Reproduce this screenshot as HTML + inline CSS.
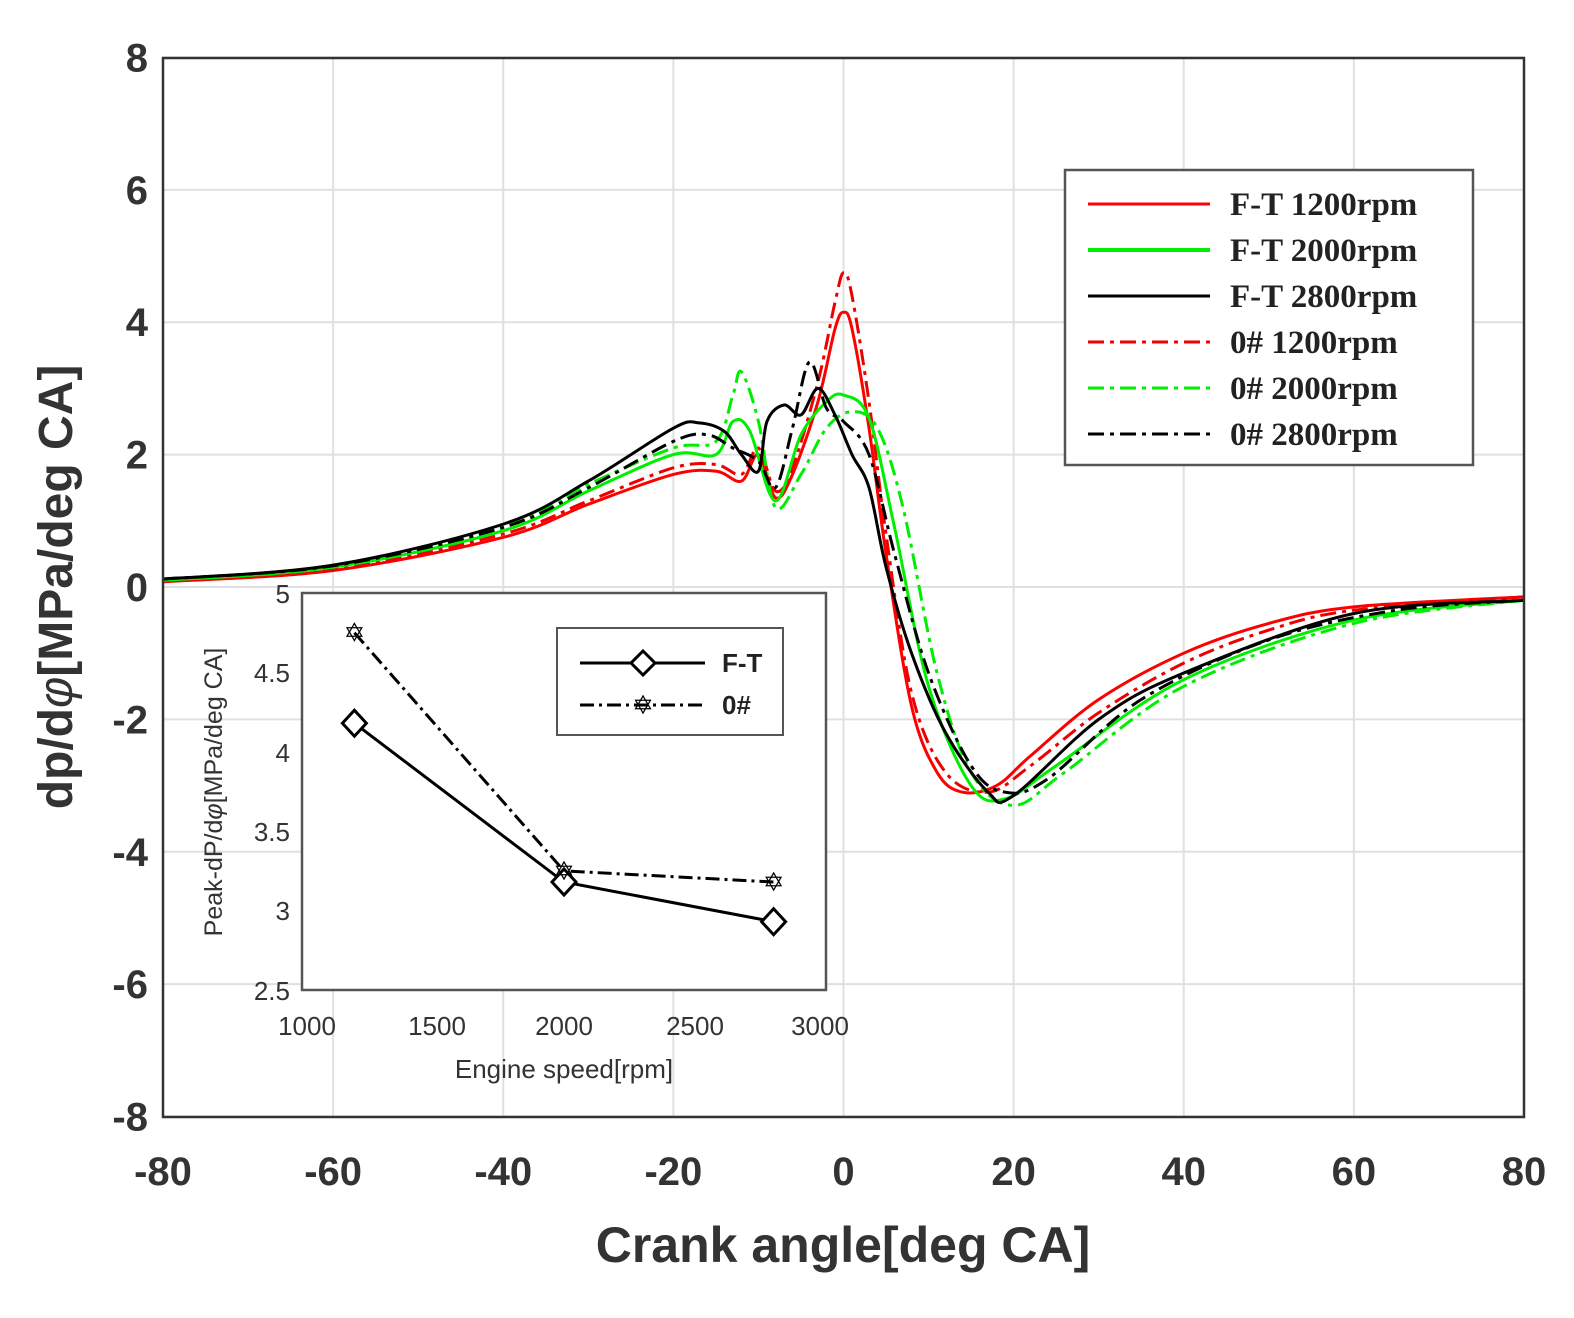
<!DOCTYPE html>
<html><head><meta charset="utf-8"><style>
body{margin:0;background:#fff;}
svg{display:block;font-family:"Liberation Sans",Arial,sans-serif;}
</style></head><body>
<svg id="s" width="1574" height="1318" viewBox="0 0 1574 1318" xmlns="http://www.w3.org/2000/svg">
<rect width="1574" height="1318" fill="#fff"/>
<g id="grid" stroke="#e0e0e0" stroke-width="2"></g>
<g id="curves" fill="none" stroke-width="3"></g>
<rect x="163" y="58" width="1361" height="1059" fill="none" stroke="#333" stroke-width="2.5"/>
<g id="ticks" font-size="40" font-weight="bold" fill="#333"></g>
<text x="843" y="1262" font-size="50" font-weight="bold" text-anchor="middle" fill="#333">Crank angle[deg CA]</text>
<text transform="translate(72,587) rotate(-90)" font-size="48" font-weight="bold" text-anchor="middle" fill="#333">dp/d<tspan font-style="italic" font-weight="normal">φ</tspan>[MPa/deg CA]</text>
<!-- legend -->
<rect x="1065" y="170" width="408" height="295" fill="#fff" stroke="#555" stroke-width="2.5"/>
<g font-family="Liberation Serif,serif" font-size="33" font-weight="bold" fill="#222">
<line x1="1088" y1="204" x2="1210" y2="204" stroke="#f00" stroke-width="3"/><text x="1230" y="215">F-T 1200rpm</text>
<line x1="1088" y1="250" x2="1210" y2="250" stroke="#0e0" stroke-width="4"/><text x="1230" y="261">F-T 2000rpm</text>
<line x1="1088" y1="296" x2="1210" y2="296" stroke="#000" stroke-width="3"/><text x="1230" y="307">F-T 2800rpm</text>
<line x1="1088" y1="342" x2="1210" y2="342" stroke="#e00" stroke-width="3" stroke-dasharray="16,6,4,6"/><text x="1230" y="353">0# 1200rpm</text>
<line x1="1088" y1="388" x2="1210" y2="388" stroke="#0e0" stroke-width="3" stroke-dasharray="16,6,4,6"/><text x="1230" y="399">0# 2000rpm</text>
<line x1="1088" y1="434" x2="1210" y2="434" stroke="#000" stroke-width="3" stroke-dasharray="16,6,4,6"/><text x="1230" y="445">0# 2800rpm</text>
</g>
<!-- inset -->
<rect x="302" y="593" width="524" height="397" fill="#fff" stroke="#555" stroke-width="2.5"/>
<g id="inset"></g>
<g font-size="26" fill="#333">
<text x="307" y="1035" text-anchor="middle">1000</text>
<text x="437" y="1035" text-anchor="middle">1500</text>
<text x="564" y="1035" text-anchor="middle">2000</text>
<text x="695" y="1035" text-anchor="middle">2500</text>
<text x="820" y="1035" text-anchor="middle">3000</text>
<text x="290" y="603" text-anchor="end">5</text>
<text x="290" y="682" text-anchor="end">4.5</text>
<text x="290" y="762" text-anchor="end">4</text>
<text x="290" y="841" text-anchor="end">3.5</text>
<text x="290" y="920" text-anchor="end">3</text>
<text x="290" y="1000" text-anchor="end">2.5</text>
<text x="564" y="1078" text-anchor="middle">Engine speed[rpm]</text>
<text transform="translate(222,792) rotate(-90)" text-anchor="middle" font-size="25">Peak-dP/d<tspan font-style="italic">φ</tspan>[MPa/deg CA]</text>
</g>
<rect x="557" y="628" width="226" height="107" fill="#fff" stroke="#555" stroke-width="2"/>
<line x1="580" y1="663" x2="705" y2="663" stroke="#000" stroke-width="3"/>
<polygon points="643,651 655,663 643,675 631,663" fill="#fff" stroke="#000" stroke-width="3"/>
<line x1="580" y1="705" x2="705" y2="705" stroke="#000" stroke-width="3" stroke-dasharray="14,5,3,5"/>
<text x="643" y="714" text-anchor="middle" font-size="26" fill="#000">✡</text>
<text x="722" y="672" font-size="26" font-weight="bold" fill="#222">F-T</text>
<text x="722" y="714" font-size="26" font-weight="bold" fill="#222">0#</text>
</svg>
<script>
const NS="http://www.w3.org/2000/svg";
const X=v=>163+(v+80)*1361/160, Y=v=>587-v*66.19;
const g=document.getElementById('grid'),t=document.getElementById('ticks');
function el(p,tag,a,txt){const e=document.createElementNS(NS,tag);for(const k in a)e.setAttribute(k,a[k]);if(txt!=null)e.textContent=txt;p.appendChild(e);return e;}
for(let v=-80;v<=80;v+=20){el(g,'line',{x1:X(v),x2:X(v),y1:58,y2:1117});el(t,'text',{x:X(v),y:1185,'text-anchor':'middle'},v);}
for(let v=-8;v<=8;v+=2){el(g,'line',{x1:163,x2:1524,y1:Y(v),y2:Y(v)});el(t,'text',{x:148,y:Y(v)+14,'text-anchor':'end'},v);}
function path(pts){const P=pts.map(p=>[X(p[0]),Y(p[1])]);let d='M'+P[0];for(let i=0;i<P.length-1;i++){const p0=P[i-1]||P[i],p1=P[i],p2=P[i+1],p3=P[i+2]||p2;d+=`C${p1[0]+(p2[0]-p0[0])/6},${p1[1]+(p2[1]-p0[1])/6} ${p2[0]-(p3[0]-p1[0])/6},${p2[1]-(p3[1]-p1[1])/6} ${p2[0]},${p2[1]}`;}return d;}
const c=document.getElementById('curves');
const DD="16,6,4,6";
const S=[
["#f00",null,[[-80,0.08],[-60,0.25],[-40,0.75],[-30,1.25],[-20,1.7],[-15,1.75],[-12,1.6],[-10,2.0],[-8,1.35],[-6,1.7],[-3,2.8],[-1,3.9],[0,4.15],[1,3.9],[3,2.4],[5,0.5],[8,-1.8],[11,-2.8],[14,-3.1],[18,-3.0],[22,-2.55],[30,-1.7],[40,-1.0],[50,-0.55],[60,-0.3],[80,-0.15]]],
["#e00",DD,[[-80,0.08],[-60,0.26],[-40,0.8],[-30,1.3],[-20,1.8],[-15,1.85],[-12,1.7],[-10,2.1],[-8,1.45],[-6,1.8],[-3,3.1],[-1,4.3],[0,4.75],[1,4.4],[3,2.8],[5,0.8],[8,-1.6],[12,-2.8],[17,-3.1],[22,-2.7],[30,-1.9],[40,-1.15],[50,-0.65],[60,-0.35],[80,-0.15]]],
["#0e0",null,[[-80,0.1],[-60,0.3],[-40,0.85],[-30,1.45],[-20,2.0],[-15,2.0],[-13,2.5],[-11,2.35],[-8,1.3],[-5,2.3],[-2,2.8],[0,2.9],[3,2.55],[6,0.9],[10,-1.5],[15,-3.0],[19,-3.2],[25,-2.7],[40,-1.4],[60,-0.5],[80,-0.2]]],
["#0e0",DD,[[-80,0.1],[-60,0.3],[-40,0.9],[-30,1.55],[-20,2.1],[-15,2.2],[-13,2.9],[-12,3.25],[-10,2.5],[-8,1.2],[-5,1.7],[-2,2.4],[1,2.65],[4,2.4],[7,1.2],[11,-1.3],[15,-2.8],[20,-3.3],[26,-2.8],[40,-1.5],[60,-0.55],[80,-0.2]]],
["#000",null,[[-80,0.12],[-60,0.33],[-40,0.95],[-30,1.6],[-20,2.4],[-17,2.48],[-14,2.35],[-12,2.0],[-10,1.75],[-9,2.5],[-7,2.75],[-5,2.6],[-3,3.0],[-1,2.6],[1,2.0],[3,1.5],[5,0.3],[8,-1.0],[12,-2.2],[17,-3.1],[20,-3.15],[30,-2.0],[40,-1.3],[60,-0.4],[80,-0.2]]],
["#000",DD,[[-80,0.12],[-60,0.32],[-40,0.9],[-30,1.5],[-20,2.2],[-16,2.3],[-13,2.1],[-10,1.9],[-8,1.5],[-6,2.4],[-4,3.4],[-2,2.7],[0,2.5],[3,2.0],[6,0.5],[10,-1.3],[15,-2.7],[19,-3.1],[24,-2.9],[35,-1.7],[50,-0.8],[65,-0.35],[80,-0.2]]]
];
for(const [col,da,pts] of S){const a={d:path(pts),stroke:col};if(da)a['stroke-dasharray']=da;el(c,'path',a);}
const IX=v=>302+(v-1000)*0.262, IY=v=>593+(5-v)*158.8;
const ins=document.getElementById('inset');
const ft=[[1200,4.18],[2000,3.18],[2800,2.93]], o=[[1200,4.75],[2000,3.25],[2800,3.18]];
el(ins,'polyline',{points:ft.map(p=>IX(p[0])+','+IY(p[1])).join(' '),fill:'none',stroke:'#000','stroke-width':3});
el(ins,'polyline',{points:o.map(p=>IX(p[0])+','+IY(p[1])).join(' '),fill:'none',stroke:'#000','stroke-width':3,'stroke-dasharray':'14,5,3,5'});
for(const p of ft){const x=IX(p[0]),y=IY(p[1]);el(ins,'polygon',{points:`${x},${y-13} ${x+12},${y} ${x},${y+13} ${x-12},${y}`,fill:'#fff',stroke:'#000','stroke-width':3});}
for(const p of o){el(ins,'text',{x:IX(p[0]),y:IY(p[1])+9,'text-anchor':'middle','font-size':26},'✡');}
</script>
</body></html>
